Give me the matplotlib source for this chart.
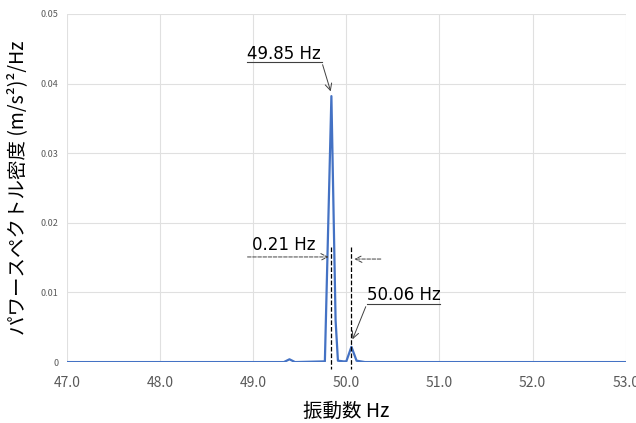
import matplotlib
matplotlib.use("Agg")
import matplotlib.pyplot as plt

plt.rcParams['font.family'] = ['Noto Sans CJK JP', 'DejaVu Sans']

# スペクトルの読み取り値
freq = [47.0, 48.0, 49.0, 49.33, 49.39, 49.45, 49.77, 49.84, 49.885, 49.91,
        49.97, 50.0, 50.055, 50.11, 50.2, 51.0, 52.0, 53.0]
psd = [0.0, 0.0, 0.0, 0.0, 0.0004, 0.0, 0.0001, 0.0382, 0.006, 0.0002,
       0.0001, 0.0001, 0.0022, 0.0002, 0.0, 0.0, 0.0, 0.0]

xticks = [47.0, 48.0, 49.0, 50.0, 51.0, 52.0, 53.0]
yticks = [0, 0.01, 0.02, 0.03, 0.04, 0.05]
ylabels = ["0", "0.01", "0.02", "0.03", "0.04", "0.05"]

peak1 = 49.84
peak2 = 50.055

fig = plt.figure(figsize=(6.36, 4.23), dpi=100)
ax = fig.add_axes([0.105, 0.144, 0.879, 0.823])

ax.plot(freq, psd, color="#4472C4", lw=1.6, zorder=3)

ax.set_xlim(47, 53)
ax.set_ylim(0, 0.05)
ax.set_xticks(xticks)
ax.set_xticklabels([f"{t:.1f}" for t in xticks], fontsize=10, color="#595959")
ax.set_yticks(yticks)
ax.set_yticklabels(ylabels, fontsize=6.5, color="#595959")
ax.tick_params(axis="x", length=0, pad=10)
ax.tick_params(axis="y", length=0, pad=6)
ax.grid(True, color="#E0E0E0", lw=0.8)
for s in ax.spines.values():
    s.set_visible(False)

ax.set_xlabel("振動数 Hz", fontsize=14, labelpad=8)
ax.set_ylabel("パワースペクトル密度 (m/s²)²/Hz", fontsize=14)
ax.yaxis.set_label_coords(-0.07, 0.5)

# 縦の破線
for p in (peak1, peak2):
    ax.plot([p, p], [0.0165, -0.001], color="black", ls="--", lw=0.9,
            clip_on=False, zorder=4)

# 横の矢印
arrow = dict(arrowstyle="->", color="#404040", lw=0.7, mutation_scale=12)
ax.annotate("", xy=(peak1, 0.0151), xytext=(48.91, 0.0151),
            arrowprops=dict(arrow, ls="--"))
ax.annotate("", xy=(peak2, 0.0148), xytext=(50.40, 0.0148),
            arrowprops=dict(arrow, ls="--"))
ax.text(48.99, 0.0168, "0.21 Hz", fontsize=12, va="center", ha="left",
        family=['DejaVu Sans'])

# 49.85 Hz ラベル
ax.text(48.93, 0.0443, "49.85 Hz", fontsize=12, va="center", ha="left",
        family=['DejaVu Sans'])
ax.plot([48.93, 49.737], [0.0431, 0.0431], color="#404040", lw=0.8)
ax.annotate("", xy=(49.841, 0.0385), xytext=(49.737, 0.0431), arrowprops=arrow)

# 50.06 Hz ラベル
ax.text(50.22, 0.0096, "50.06 Hz", fontsize=12, va="center", ha="left",
        family=['DejaVu Sans'])
ax.plot([50.22, 51.01], [0.00833, 0.00833], color="#404040", lw=0.8)
ax.annotate("", xy=(50.056, 0.0029), xytext=(50.22, 0.00833), arrowprops=arrow)

fig.savefig("out.png", dpi=100)
